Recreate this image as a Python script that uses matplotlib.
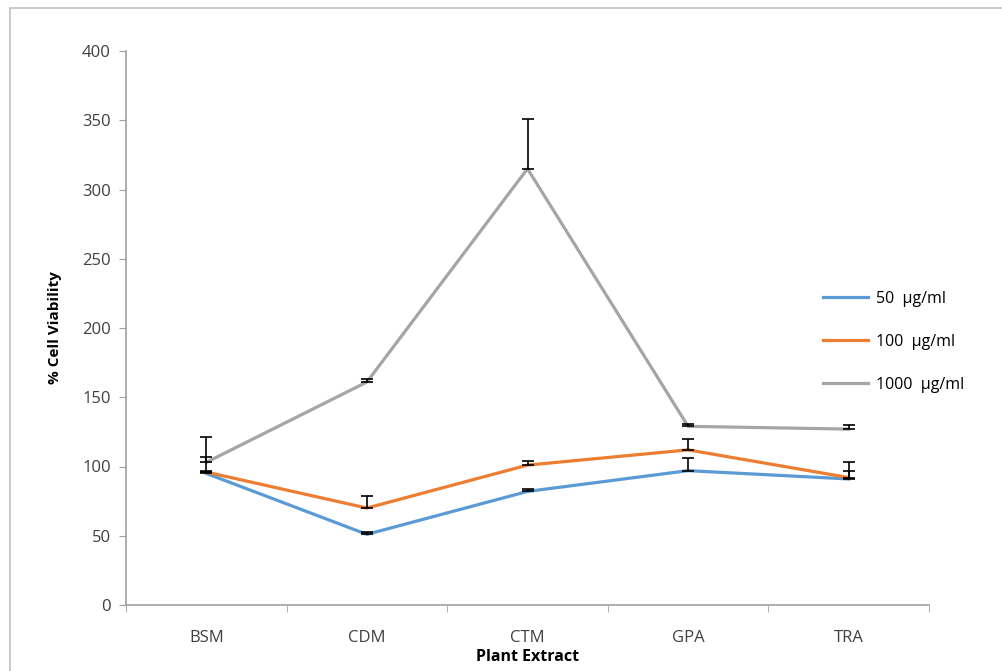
import matplotlib
matplotlib.use("Agg")
import matplotlib.pyplot as plt
from matplotlib.patches import Rectangle
import numpy as np

categories = ["BSM", "CDM", "CTM", "GPA", "TRA"]
series_names = ["50  µg/ml", "100  µg/ml", "1000  µg/ml"]
v50 = [95, 51, 82, 97, 91]
v100 = [96, 70, 101, 112, 92]
v1000 = [103, 161, 315, 129, 127]
e50 = [2, 1.5, 2, 9, 6]
e100 = [11, 9, 3, 8, 11]
e1000 = [18, 2, 36, 2, 3]
colors = ["#5B9BD5", "#ED7D31", "#A5A5A5"]
yticks = [0, 50, 100, 150, 200, 250, 300, 350, 400]

plt.rcParams['font.family'] = ['Open Sans', 'DejaVu Sans']

fig = plt.figure(figsize=(10.02, 6.71), dpi=100)
fig.patches.append(Rectangle((10/1002, -0.1), 1.2, 1 - 8/671 + 0.1, transform=fig.transFigure,
                             fill=False, edgecolor="#BFBFBF", linewidth=1.2))
ax = fig.add_axes([126/1002, 1 - 605/671, (929 - 126)/1002, (605 - 51)/671])

x = np.arange(len(categories))
for vals, errs, c, name in zip([v50, v100, v1000], [e50, e100, e1000], colors, series_names):
    ax.plot(x, vals, color=c, linewidth=2.3, label=name, zorder=3)
    ax.errorbar(x, vals, yerr=[np.zeros(len(errs)), errs], fmt='none', ecolor='black',
                elinewidth=1.2, capsize=4, capthick=1.2, zorder=4)

ax.set_xlim(-0.5, len(categories) - 0.5)
ax.set_ylim(0, 400)
ax.set_yticks(yticks)
ax.set_xticks(x)
ax.set_xticklabels(categories)
ax.set_xticks(np.arange(-0.5, len(categories), 1.0), minor=True)
ax.tick_params(axis='x', which='major', length=0, pad=18, labelsize=12, labelcolor='#404040')
ax.tick_params(axis='x', which='minor', length=5, color='#A0A0A0', direction='out')
ax.tick_params(axis='y', length=5, color='#A0A0A0', labelsize=12, labelcolor='#404040', pad=6)
for s in ['top', 'right']:
    ax.spines[s].set_visible(False)
for s in ['left', 'bottom']:
    ax.spines[s].set_color('#A0A0A0')
    ax.spines[s].set_linewidth(1.2)

ax.set_ylabel("% Cell Viability", fontsize=11, fontweight='bold', labelpad=14)
ax.set_xlabel("Plant Extract", fontsize=11.5, fontweight='bold', labelpad=2)

leg = ax.legend(loc='center left', bbox_to_anchor=(0.85, 0.475), frameon=False,
                fontsize=11.5, labelspacing=1.7, handlelength=2.8, handletextpad=0.5)

fig.savefig("out.png", dpi=100)
